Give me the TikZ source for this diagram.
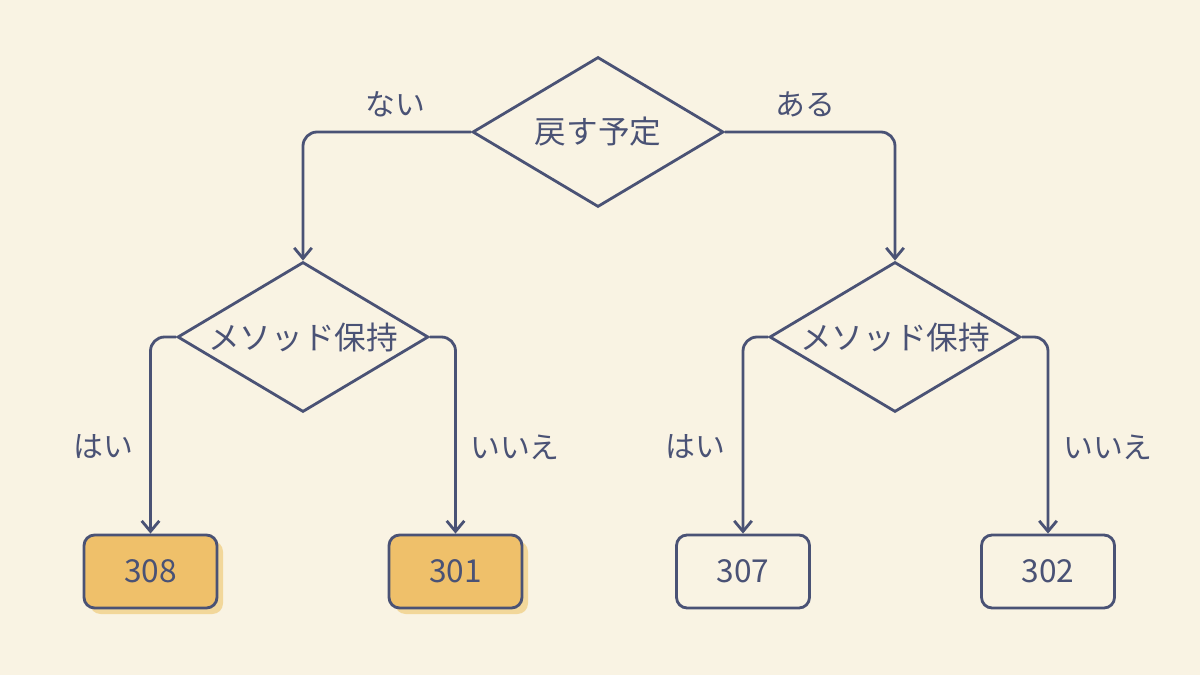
\documentclass[tikz,border=0pt]{standalone}
\usepackage{fontspec}
\setmainfont{Noto Sans CJK JP}
\usetikzlibrary{shapes.geometric,arrows.meta}
\definecolor{bg}{HTML}{F9F3E3}
\definecolor{ln}{HTML}{4A5275}
\definecolor{fillo}{HTML}{EFC06A}
\definecolor{shad}{HTML}{F2D79A}
\begin{document}
\begin{tikzpicture}[x=0.02cm,y=-0.02cm,
  dia/.style={diamond,draw=ln,line width=1.6pt,aspect=1.68,minimum width=5.02cm,minimum height=3cm,inner sep=0pt,font=\fontsize{18pt}{20pt}\selectfont,text=ln},
  box/.style={draw=ln,line width=1.6pt,rounded corners=6pt,minimum width=2.66cm,minimum height=1.46cm,font=\fontsize{18pt}{20pt}\selectfont,text=ln},
  hot/.style={box,fill=fillo},
  arr/.style={draw=ln,line width=1.6pt,rounded corners=8pt,-{Straight Barb[length=6pt,width=10pt]}},
  lab/.style={font=\fontsize{17pt}{20pt}\selectfont,text=ln}]
\fill[bg] (0,0) rectangle (1200,675);
\node[dia] (top) at (598,132) {戻す予定};
\node[dia] (L) at (303,337) {メソッド保持};
\node[dia] (R) at (895,337) {メソッド保持};
\fill[shad,rounded corners=6pt] (90,541) rectangle (223,614);
\fill[shad,rounded corners=6pt] (395,541) rectangle (528,614);
\node[hot] (b308) at (150.5,571.5) {308};
\node[hot] (b301) at (455.5,571.5) {301};
\node[box] (b307) at (743,571.5) {307};
\node[box] (b302) at (1048,571.5) {302};
\draw[arr] (top.west) -| (L.north);
\draw[arr] (top.east) -| (R.north);
\draw[arr] (L.west) -| (b308.north);
\draw[arr] (L.east) -| (b301.north);
\draw[arr] (R.west) -| (b307.north);
\draw[arr] (R.east) -| (b302.north);
\node[lab] (l1) at (395,104) {ない};
\node[lab] (l2) at (805,104) {ある};
\node[lab] (l3) at (103,447) {はい};
\node[lab] (l4) at (515,447) {いいえ};
\node[lab] (l5) at (695,447) {はい};
\node[lab] (l6) at (1108,447) {いいえ};
\end{tikzpicture}
\end{document}
